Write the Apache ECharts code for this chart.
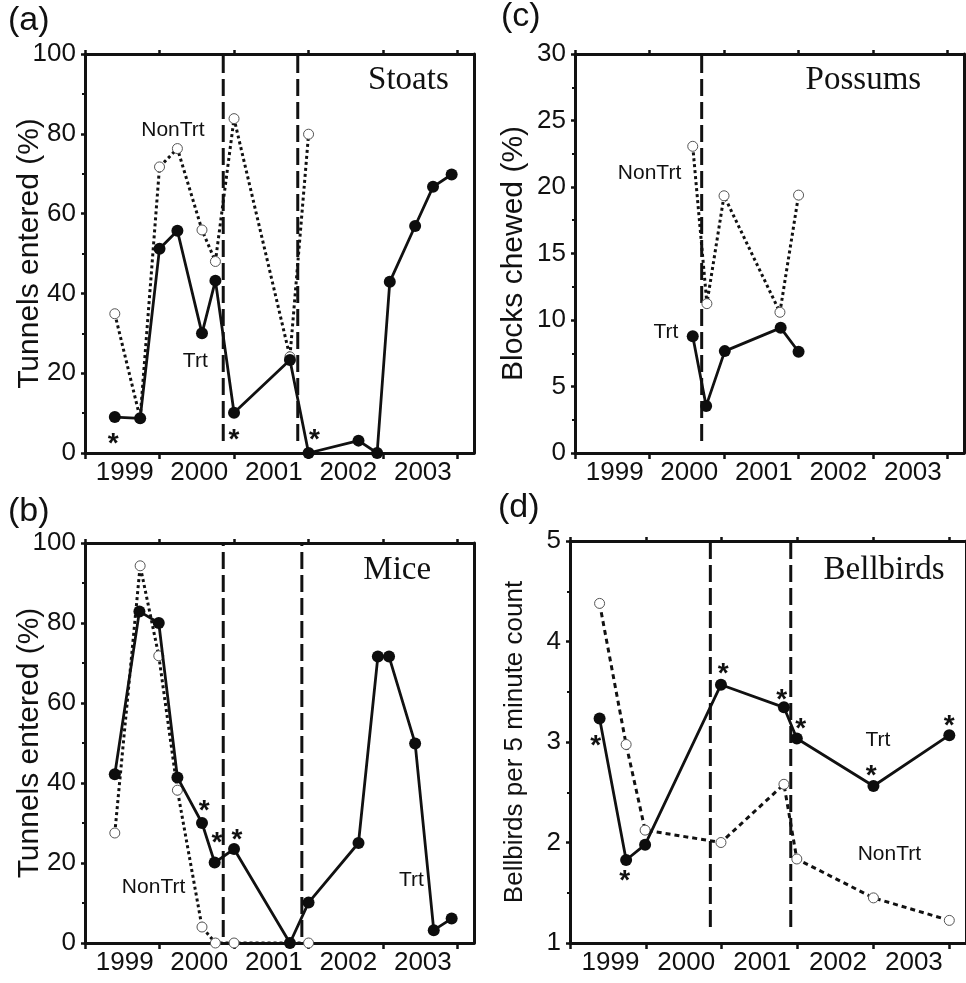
<!DOCTYPE html>
<html>
<head>
<meta charset="utf-8">
<script src="https://cdn.jsdelivr.net/npm/echarts@6/dist/echarts.min.js"></script>
<style>
  html, body { margin: 0; padding: 0; background: #fff; }
  #chart { width: 966px; height: 983px; }
</style>
</head>
<body>
<div id="chart"></div>
<script>
  // x values are decimal years (sampling dates), y values in each panel's own units
  const yearTicks = [1999, 2000, 2001, 2002, 2003, 2004]
  const yearLabels = ['1999', '2000', '2001', '2002', '2003']

  // (a) stoats - tunnels entered (%)
  const stoatTrtX = [1999.40, 1999.74, 2000.00, 2000.24, 2000.57, 2000.75, 2001.00, 2001.75, 2002.00, 2002.67, 2002.92, 2003.09, 2003.43, 2003.67, 2003.92]
  const stoatTrtY = [9.0, 8.7, 51.2, 55.7, 30.0, 43.2, 10.1, 23.3, 0, 3.1, 0, 42.9, 56.9, 66.7, 69.8]
  const stoatNonX = [1999.40, 1999.74, 2000.00, 2000.24, 2000.57, 2000.75, 2001.00, 2001.75, 2002.00]
  const stoatNonY = [34.9, 8.7, 71.7, 76.3, 55.9, 48.0, 83.8, 24.1, 79.9]
  const stoatTreat = [2000.855, 2001.855]
  const stoatStars = [[1999.38, 4.2], [2001.0, 5.2], [2002.08, 5.3]]

  // (b) mice - tunnels entered (%)
  const miceTrtX = [1999.40, 1999.73, 1999.99, 2000.24, 2000.57, 2000.74, 2001.00, 2001.75, 2002.00, 2002.67, 2002.93, 2003.08, 2003.43, 2003.68, 2003.92]
  const miceTrtY = [42.2, 82.9, 80.0, 41.4, 30.0, 20.1, 23.5, 0, 10.1, 25.0, 71.6, 71.6, 49.9, 3.2, 6.1]
  const miceNonX = [1999.40, 1999.74, 1999.99, 2000.24, 2000.57, 2000.75, 2001.00, 2001.75, 2002.00]
  const miceNonY = [27.5, 94.3, 71.8, 38.2, 4.0, 0, 0, 0, 0]
  const miceTreat = [2000.855, 2001.91]
  const miceStars = [[2000.60, 34.9], [2000.77, 27.0], [2001.04, 27.8]]

  // (c) possums - blocks chewed (%)
  const possTrtX = [2000.58, 2000.76, 2001.01, 2001.76, 2002.00]
  const possTrtY = [8.78, 3.54, 7.66, 9.41, 7.61]
  const possNonX = [2000.58, 2000.77, 2001.00, 2001.75, 2002.00]
  const possNonY = [23.06, 11.23, 19.34, 10.58, 19.39]
  const possTreat = [2000.70]
  const possStars = []

  // (d) bellbirds per 5 minute count
  const bellX = [1999.39, 1999.74, 1999.99, 2000.99, 2001.82, 2001.99, 2003.00, 2004.00]
  const bellTrtY = [3.233, 1.826, 1.978, 3.570, 3.345, 3.035, 2.562, 3.068]
  const bellNonY = [4.379, 2.975, 2.123, 2.000, 2.579, 1.836, 1.449, 1.225]
  const bellTreat = [2000.85, 2001.91]
  const bellStars = [[1999.34, 3.04], [1999.72, 1.69], [2001.02, 3.75], [2001.79, 3.49], [2002.04, 3.21], [2002.97, 2.74], [2004.0, 3.24]]

  // in-plot text: [text, x, y]
  const stoatNotes = [['NonTrt', 2000.18, 80.9], ['Trt', 2000.48, 23.0]]
  const miceNotes = [['NonTrt', 1999.92, 14.0], ['Trt', 2003.38, 15.7]]
  const possNotes = [['NonTrt', 2000.0, 21.0], ['Trt', 2000.22, 9.1]]
  const bellNotes = [['Trt', 2003.06, 3.02], ['NonTrt', 2003.21, 1.885]]
  const speciesNotes = [['Stoats', 2003.34, 93.3], ['Mice', 2003.19, 93.2], ['Possums', 2002.87, 28.0], ['Bellbirds', 2003.14, 4.71]]

  const ink = '#111'
  const zip = (xs, ys) => xs.map((x, k) => [x, ys[k]])

  const panels = [
    { tag: '(a)', tagPos: [8, 4], grid: { left: 85, top: 54, width: 389, height: 399 }, xMax: 2004.22,
      y: [0, 100, 20], title: 'Tunnels entered (%)', titleSize: 30, titleGap: 40,
      trt: zip(stoatTrtX, stoatTrtY), non: zip(stoatNonX, stoatNonY), treat: stoatTreat, span: [3, 100],
      stars: stoatStars, notes: stoatNotes, species: speciesNotes[0], dash: [3, 3] },
    { tag: '(b)', tagPos: [8, 495], grid: { left: 85, top: 543, width: 389, height: 400 }, xMax: 2004.22,
      y: [0, 100, 20], title: 'Tunnels entered (%)', titleSize: 30, titleGap: 40,
      trt: zip(miceTrtX, miceTrtY), non: zip(miceNonX, miceNonY), treat: miceTreat, span: [1.5, 100],
      stars: miceStars, notes: miceNotes, species: speciesNotes[1], dash: [3, 3] },
    { tag: '(c)', tagPos: [501, 0], grid: { left: 575, top: 54, width: 389, height: 399 }, xMax: 2004.22,
      y: [0, 30, 5], title: 'Blocks chewed (%)', titleSize: 30, titleGap: 46,
      trt: zip(possTrtX, possTrtY), non: zip(possNonX, possNonY), treat: possTreat, span: [0.9, 30],
      stars: possStars, notes: possNotes, species: speciesNotes[2], dash: [3, 3] },
    { tag: '(d)', tagPos: [498, 491], grid: { left: 570, top: 541, width: 396, height: 402 }, xMax: 2004.22,
      y: [1, 5, 1], title: 'Bellbirds per 5 minute count', titleSize: 26, titleGap: 42,
      trt: zip(bellX, bellTrtY), non: zip(bellX, bellNonY), treat: bellTreat, span: [1.16, 5],
      stars: bellStars, notes: bellNotes, species: speciesNotes[3], dash: [5, 4] }
  ]

  const grid = [], xAxis = [], yAxis = [], series = [], graphic = []

  panels.forEach((p, i) => {
    grid.push(Object.assign({ containLabel: false }, p.grid))
    const xi = xAxis.length, yi = yAxis.length
    // bottom: ticks on year boundaries, labels centred inside each year
    xAxis.push({
      gridIndex: i, type: 'value', position: 'bottom', min: 1999, max: p.xMax,
      axisLine: { show: true, onZero: false, lineStyle: { color: ink, width: 3 } },
      axisTick: { show: true, length: 6, customValues: yearTicks, lineStyle: { color: ink, width: 2.5 } },
      axisLabel: {
        show: true, margin: 7, fontSize: 26, color: ink, padding: [0, 0, 0, 5],
        customValues: yearLabels.map(y => Number(y) + 0.5),
        formatter: v => yearLabels[Math.floor(v) - 1999]
      },
      splitLine: { show: false }
    })
    // top frame with outward ticks
    xAxis.push({
      gridIndex: i, type: 'value', position: 'top', min: 1999, max: p.xMax,
      axisLine: { show: true, onZero: false, lineStyle: { color: ink, width: 3 } },
      axisTick: { show: true, length: 4, customValues: yearTicks, lineStyle: { color: ink, width: 2.5 } },
      axisLabel: { show: false },
      splitLine: { show: false }
    })
    yAxis.push({
      gridIndex: i, type: 'value', position: 'left', min: p.y[0], max: p.y[1], interval: p.y[2],
      name: p.title, nameLocation: 'middle', nameGap: p.titleGap, nameMoveOverlap: false,
      nameTextStyle: { fontSize: p.titleSize, color: ink },
      axisLine: { show: true, onZero: false, lineStyle: { color: ink, width: 3 } },
      axisTick: { show: true, length: 4, lineStyle: { color: ink, width: 2.5 } },
      minorTick: { show: true, splitNumber: 2, length: 3, lineStyle: { color: ink, width: 2 } },
      axisLabel: { margin: 9, fontSize: 26, color: ink },
      splitLine: { show: false }
    })
    yAxis.push({
      gridIndex: i, type: 'value', position: 'right', min: p.y[0], max: p.y[1], interval: p.y[2],
      axisLine: { show: true, onZero: false, lineStyle: { color: ink, width: 3 } },
      axisTick: { show: false }, axisLabel: { show: false }, splitLine: { show: false }
    })

    p.treat.forEach(x => {
      series.push({
        type: 'line', xAxisIndex: xi, yAxisIndex: yi, z: 1, symbol: 'none', silent: true,
        data: [[x, p.span[0]], [x, p.span[1]]],
        lineStyle: { color: ink, width: 3, type: [17, 6] }
      })
    })
    series.push({
      name: 'NonTrt', type: 'line', xAxisIndex: xi, yAxisIndex: yi, z: 2,
      data: p.non, symbol: 'circle', symbolSize: 10, showAllSymbol: true,
      lineStyle: { color: ink, width: 3, type: p.dash },
      itemStyle: { color: '#fff', borderColor: '#555', borderWidth: 1, opacity: 1 }
    })
    series.push({
      name: 'Trt', type: 'line', xAxisIndex: xi, yAxisIndex: yi, z: 3,
      data: p.trt, symbol: 'circle', symbolSize: 12, showAllSymbol: true,
      lineStyle: { color: ink, width: 2.8 },
      itemStyle: { color: '#0d0d0d', opacity: 1 }
    })
    const textItem = { color: 'rgba(0,0,0,0)', opacity: 1 }
    series.push({
      type: 'scatter', xAxisIndex: xi, yAxisIndex: yi, z: 4, symbolSize: 1, silent: true,
      itemStyle: textItem, data: p.stars,
      label: { show: true, position: 'inside', formatter: '*', fontSize: 28, fontWeight: 'bold', color: ink, offset: [0, 8] }
    })
    series.push({
      type: 'scatter', xAxisIndex: xi, yAxisIndex: yi, z: 4, symbolSize: 1, silent: true,
      itemStyle: textItem,
      data: p.notes.map(n => ({ name: n[0], value: [n[1], n[2]] })),
      label: { show: true, position: 'inside', formatter: '{b}', fontSize: 21, color: ink }
    })
    series.push({
      type: 'scatter', xAxisIndex: xi, yAxisIndex: yi, z: 4, symbolSize: 1, silent: true,
      itemStyle: textItem,
      data: [{ name: p.species[0], value: [p.species[1], p.species[2]] }],
      label: { show: true, position: 'inside', formatter: '{b}', fontSize: 33, color: ink,
        fontFamily: '"Liberation Serif", "Times New Roman", serif' }
    })
    graphic.push({
      type: 'text', left: p.tagPos[0], top: p.tagPos[1],
      style: { text: p.tag, fontSize: 34, fill: ink, fontFamily: '"Liberation Sans", Arial, sans-serif' }
    })
  })

  const chart = echarts.init(document.getElementById('chart'))
  chart.setOption({
    animation: false,
    backgroundColor: '#fff',
    textStyle: { fontFamily: '"Liberation Sans", Arial, sans-serif' },
    grid, xAxis, yAxis, series, graphic
  })
</script>
</body>
</html>
